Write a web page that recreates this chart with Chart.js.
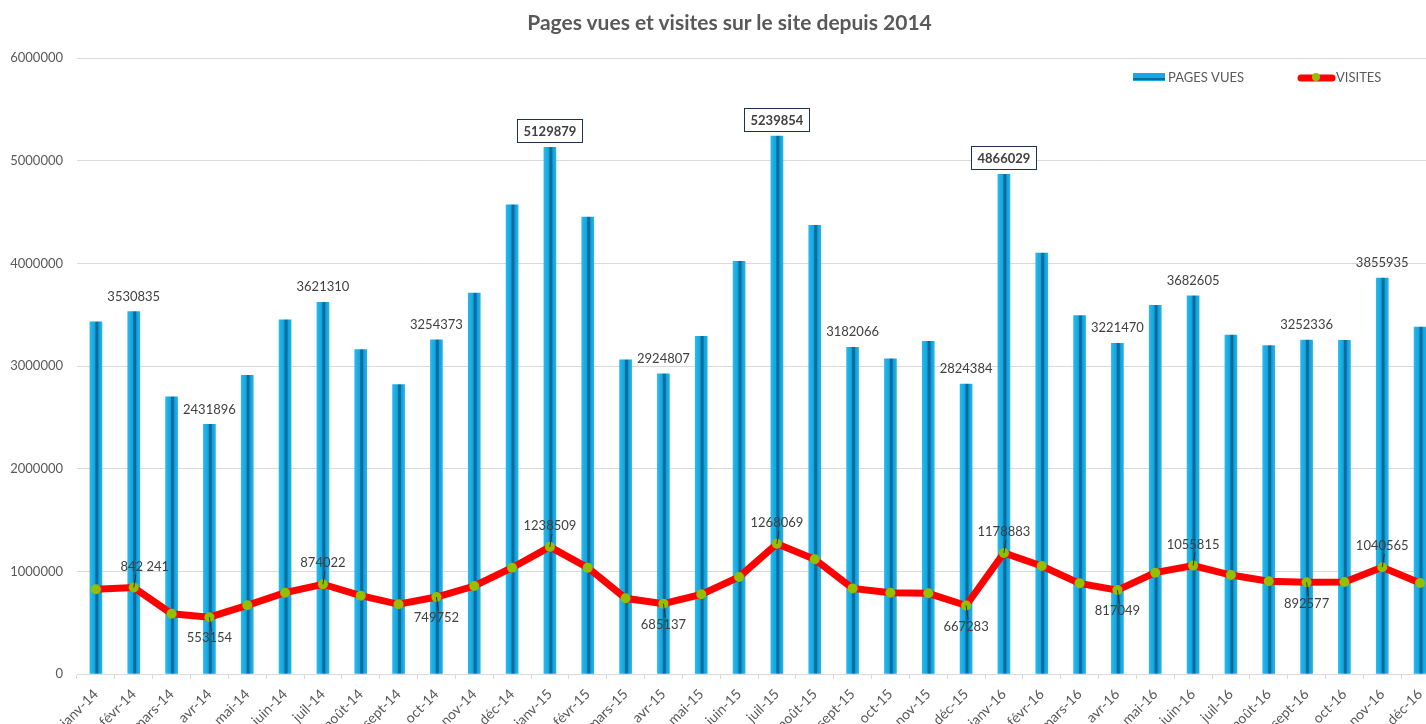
<!DOCTYPE html>
<html lang="fr">
<head>
<meta charset="utf-8">
<title>Pages vues et visites sur le site depuis 2014</title>
<script src="https://cdn.jsdelivr.net/npm/chart.js@4.4.1/dist/chart.umd.min.js"></script>
<style>
  html, body { margin: 0; padding: 0; background: #fff; overflow: hidden; }
  #wrap { width: 1460px; height: 724px; position: relative; }
  #title {
    position: absolute; left: 0; top: 9px; width: 1459px; margin: 0;
    text-align: center; font: bold 21px/26px Lato, "Open Sans", sans-serif; color: #595959;
  }
</style>
</head>
<body>
<div id="wrap">
  <h1 id="title">Pages vues et visites sur le site depuis 2014</h1>
  <canvas id="chart" width="1460" height="724"></canvas>
</div>
<script>
const months = [
  'janv-14', 'févr-14', 'mars-14', 'avr-14', 'mai-14', 'juin-14', 'juil-14', 'août-14', 'sept-14', 'oct-14', 'nov-14', 'déc-14',
  'janv-15', 'févr-15', 'mars-15', 'avr-15', 'mai-15', 'juin-15', 'juil-15', 'août-15', 'sept-15', 'oct-15', 'nov-15', 'déc-15',
  'janv-16', 'févr-16', 'mars-16', 'avr-16', 'mai-16', 'juin-16', 'juil-16', 'août-16', 'sept-16', 'oct-16', 'nov-16', 'déc-16'
];

const pagesVues = [
  3430000, 3530835, 2700000, 2431896, 2910000, 3450000, 3621310, 3160000, 2820000, 3254373, 3710000, 4570000,
  5129879, 4450000, 3060000, 2924807, 3290000, 4020000, 5239854, 4370000, 3182066, 3070000, 3240000, 2824384,
  4866029, 4100000, 3490000, 3221470, 3590000, 3682605, 3300000, 3200000, 3252336, 3250000, 3855935, 3380000
];

const visites = [
  825000, 842241, 587000, 553154, 669000, 792000, 874022, 763000, 679000, 749752, 857000, 1035000,
  1238509, 1036000, 737000, 685137, 776000, 945000, 1268069, 1117000, 834000, 792000, 786000, 667283,
  1178883, 1052000, 883000, 817049, 987000, 1055815, 964000, 903000, 892577, 896000, 1040565, 886000
];

const yTicks = [0, 1000000, 2000000, 3000000, 4000000, 5000000, 6000000];

// which points carry a value label
const pagesLabelIdx = [1, 3, 6, 9, 15, 20, 23, 27, 29, 32, 34];
const pagesBoxedIdx = [12, 18, 24];
const visitesLabelIdx = [1, 3, 6, 9, 12, 15, 18, 23, 24, 27, 29, 32, 34];
const visitesLabelSide = ['up', 'down', 'up', 'down', 'up', 'down', 'up', 'down', 'up', 'down', 'up', 'down', 'up'];
const visitesLabelText = { 1: '842 241' };

const FONT = 'Lato, "Open Sans", sans-serif';
const TXT = '#595959';

function barGradient(ctx) {
  const chart = ctx.chart;
  const xs = chart.scales && chart.scales.x;
  if (ctx.type !== 'data' || !xs) return '#17a9e2';
  const x = xs.getPixelForValue(ctx.dataIndex);
  if (!Number.isFinite(x)) return '#17a9e2';
  const g = chart.ctx.createLinearGradient(x - 6, 0, x + 6, 0);
  g.addColorStop(0, '#27b9ee');
  g.addColorStop(0.4, '#12a5df');
  g.addColorStop(0.5, '#0a6c9c');
  g.addColorStop(0.65, '#0a6c9c');
  g.addColorStop(0.75, '#139fd8');
  g.addColorStop(1, '#22b3ea');
  return g;
}

const labelPlugin = {
  id: 'valueLabels',
  afterDatasetsDraw(chart) {
    const c = chart.ctx;
    const bars = chart.getDatasetMeta(0).data;
    const pts = chart.getDatasetMeta(1).data;
    c.save();
    c.textAlign = 'center';
    c.textBaseline = 'middle';

    // plain labels over bars
    c.font = '13px ' + FONT;
    c.fillStyle = '#404040';
    pagesLabelIdx.forEach(i => {
      c.fillText(String(pagesVues[i]), bars[i].x, bars[i].y - 15);
    });

    // boxed labels on the peaks
    c.font = 'bold 13px ' + FONT;
    pagesBoxedIdx.forEach(i => {
      const t = String(pagesVues[i]);
      const w = Math.round(c.measureText(t).width + 12), h = 23;
      const bx = Math.round(bars[i].x - w / 2), by = Math.round(bars[i].y - 5 - h);
      c.fillStyle = '#fff';
      c.fillRect(bx, by, w, h);
      c.strokeStyle = '#1f3150';
      c.lineWidth = 1;
      c.strokeRect(bx + 0.5, by + 0.5, w, h);
      c.fillStyle = '#404040';
      c.fillText(t, bars[i].x, by + h / 2 + 1);
    });

    // visites labels with leader lines
    c.font = '13px ' + FONT;
    visitesLabelIdx.forEach((i, k) => {
      const p = pts[i];
      const up = visitesLabelSide[k] === 'up';
      const ty = up ? p.y - 21 : p.y + 21;
      c.strokeStyle = '#333';
      c.lineWidth = 1;
      c.beginPath();
      c.moveTo(p.x, p.y);
      c.lineTo(p.x + 2, up ? p.y - 13 : p.y + 14);
      c.stroke();
      c.fillStyle = '#404040';
      c.fillText(visitesLabelText[i] || String(visites[i]), p.x + (i === 1 ? 11 : 0), ty);
    });
    c.restore();
  },
  afterDraw(chart) {
    // legend inside the plot, top right
    const c = chart.ctx;
    c.save();
    c.fillStyle = '#17a9e2';
    c.fillRect(1133, 73, 32, 8);
    c.fillStyle = '#0a6c9c';
    c.fillRect(1133, 78, 32, 2);
    c.strokeStyle = '#ff0000';
    c.lineWidth = 7;
    c.lineCap = 'round';
    c.beginPath();
    c.moveTo(1301, 78);
    c.lineTo(1332, 78);
    c.stroke();
    c.fillStyle = '#92c000';
    c.beginPath();
    c.arc(1316, 77, 4, 0, Math.PI * 2);
    c.fill();
    c.font = '13px ' + FONT;
    c.fillStyle = TXT;
    c.textBaseline = 'middle';
    c.textAlign = 'left';
    c.fillText('PAGES VUES', 1168, 78);
    c.fillText('VISITES', 1336, 78);
    c.restore();
  }
};

new Chart(document.getElementById('chart'), {
  data: {
    labels: months,
    datasets: [
      {
        type: 'bar',
        label: 'PAGES VUES',
        data: pagesVues,
        backgroundColor: barGradient,
        barThickness: 12,
        order: 2
      },
      {
        type: 'line',
        label: 'VISITES',
        data: visites,
        borderColor: '#ff0000',
        borderWidth: 7,
        tension: 0,
        pointRadius: 5,
        pointBorderWidth: 0,
        pointBackgroundColor: '#92c000',
        order: 1
      }
    ]
  },
  options: {
    responsive: false,
    animation: false,
    layout: { padding: { left: 0, right: 21, top: 58, bottom: 0 } },
    plugins: {
      legend: { display: false },
      tooltip: { enabled: false },
      title: { display: false }
    },
    scales: {
      x: {
        offset: true,
        grid: { offset: true, drawOnChartArea: false, color: '#d9d9d9', tickLength: 5 },
        border: { color: '#d9d9d9' },
        ticks: {
          color: TXT,
          font: { family: FONT, size: 14 },
          autoSkip: false,
          minRotation: 45,
          maxRotation: 45,
          padding: 7
        },
        afterFit(scale) { scale.height = 50; }
      },
      y: {
        min: 0,
        max: 6000000,
        afterBuildTicks(scale) { scale.ticks = yTicks.map(v => ({ value: v })); },
        grid: { color: '#d9d9d9', drawTicks: false },
        border: { display: false },
        ticks: {
          color: TXT,
          font: { family: FONT, size: 13 },
          padding: 14,
          callback: v => String(v)
        },
        afterFit(scale) { scale.width = 77; }
      }
    }
  },
  plugins: [labelPlugin]
});
</script>
</body>
</html>
